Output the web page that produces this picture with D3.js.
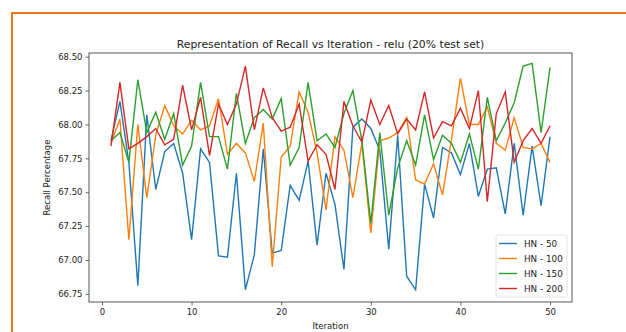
<!DOCTYPE html>
<meta charset="utf-8">
<script src="https://cdn.jsdelivr.net/npm/d3@7"></script>
<style>
  body { margin: 0; background: #fff; }
  text { font-family: "DejaVu Sans", sans-serif; fill: #222; }
</style>
<div id="my_dataviz"></div>
<script>

// data (iterations 1..50)
var iterations = d3.range(1, 51)
var seriesNames = ["HN - 50", "HN - 100", "HN - 150", "HN - 200"]
var seriesColors = ["#1f77b4", "#ff7f0e", "#2ca02c", "#d62728"]

var hn50 = [67.88, 68.17, 67.72, 66.81, 68.07, 67.52, 67.80, 67.86, 67.64, 67.15,
            67.82, 67.72, 67.03, 67.02, 67.64, 66.78, 67.04, 67.82, 67.05, 67.07,
            67.55, 67.44, 67.73, 67.11, 67.64, 67.41, 66.93, 67.98, 68.04, 67.97,
            67.81, 67.08, 67.92, 66.88, 66.78, 67.56, 67.31, 67.83, 67.79, 67.63,
            67.86, 67.47, 67.67, 67.68, 67.34, 67.86, 67.33, 67.84, 67.40, 67.91]
var hn100 = [67.86, 68.04, 67.15, 68.00, 67.46, 67.92, 68.14, 67.99, 67.93, 68.03,
             67.96, 67.99, 68.19, 67.78, 67.86, 67.79, 67.58, 68.01, 66.95, 67.76,
             67.84, 68.24, 68.09, 67.79, 67.37, 67.91, 67.81, 67.46, 67.86, 67.20,
             67.88, 67.90, 67.94, 68.05, 67.59, 67.56, 67.71, 67.48, 67.89, 68.34,
             68.00, 68.00, 68.13, 67.86, 67.81, 68.05, 67.83, 67.82, 67.86, 67.72]
var hn150 = [67.88, 67.94, 67.72, 68.33, 67.94, 68.09, 67.89, 68.08, 67.70, 67.84,
             68.31, 67.91, 67.91, 67.67, 68.23, 67.86, 68.05, 68.11, 68.04, 68.19,
             67.70, 67.83, 68.31, 67.88, 67.93, 67.83, 68.08, 68.25, 67.88, 67.27,
             67.94, 67.33, 67.68, 67.88, 67.70, 68.07, 67.74, 67.92, 67.86, 67.72,
             67.93, 67.67, 68.20, 67.88, 68.01, 68.16, 68.43, 68.45, 67.94, 68.42]
var hn200 = [67.84, 68.31, 67.82, 67.86, 67.91, 67.97, 67.85, 67.89, 68.29, 67.96,
             68.20, 67.77, 68.15, 68.00, 68.15, 68.43, 67.96, 68.27, 68.05, 67.95,
             67.98, 68.15, 67.73, 67.85, 67.78, 67.52, 68.17, 67.99, 67.87, 68.18,
             68.00, 68.14, 67.93, 68.04, 67.96, 68.24, 67.90, 68.02, 67.99, 68.12,
             67.97, 68.25, 67.43, 68.08, 68.24, 67.72, 67.88, 67.97, 67.86, 67.99]

var xTicks = [0, 10, 20, 30, 40, 50]
var yTicks = [66.75, 67.00, 67.25, 67.50, 67.75, 68.00, 68.25, 68.50]

var allSeries = [hn50, hn100, hn150, hn200]

// dimensions of the page and the plot area
var W = 626, H = 332
var margin = {top: 53, right: 54, bottom: 30, left: 89},
    width = W - margin.left - margin.right,
    height = H - margin.top - margin.bottom

var svg0 = d3.select("#my_dataviz")
  .append("svg")
    .attr("width", W)
    .attr("height", H)

// orange frame of the slide
svg0.append("rect")
  .attr("x", 12).attr("y", 13)
  .attr("width", W).attr("height", H)
  .attr("fill", "none")
  .attr("stroke", "#ec7422")
  .attr("stroke-width", 2)

var svg = svg0.append("g")
  .attr("transform", "translate(" + margin.left + "," + margin.top + ")")

// matplotlib-ish 5% margins
var x = d3.scaleLinear()
  .domain([1 - 2.45, 50 + 2.45])
  .range([0, width])

var y = d3.scaleLinear()
  .domain([66.69, 68.527])
  .range([height, 0])

// axes
var xAxis = svg.append("g")
  .attr("transform", "translate(0," + height + ")")
  .call(d3.axisBottom(x).tickValues(xTicks).tickSize(3.5).tickPadding(3))
var yAxis = svg.append("g")
  .call(d3.axisLeft(y).tickValues(yTicks).tickFormat(d3.format(".2f")).tickSize(3.5).tickPadding(3))

svg.selectAll(".domain").remove()
svg.selectAll(".tick line").attr("stroke", "#444").attr("stroke-width", 0.8)
svg.selectAll(".tick text").style("font-size", "8.5px").attr("fill", "#222")

// spines
svg.append("rect")
  .attr("x", 0).attr("y", 0)
  .attr("width", width).attr("height", height)
  .attr("fill", "none")
  .attr("stroke", "#444")
  .attr("stroke-width", 0.9)

// lines
var line = d3.line()
  .x(function(d, i) { return x(iterations[i]) })
  .y(function(d) { return y(d) })

svg.selectAll(".series")
  .data(allSeries)
  .enter()
  .append("path")
    .attr("class", "series")
    .attr("d", line)
    .attr("fill", "none")
    .attr("stroke", function(d, i) { return seriesColors[i] })
    .attr("stroke-width", 1.4)

// title and labels
svg0.append("text")
  .attr("x", margin.left + width / 2)
  .attr("y", 48)
  .attr("text-anchor", "middle")
  .style("font-size", "10.8px")
  .text("Representation of Recall vs Iteration - relu (20% test set)")

svg0.append("text")
  .attr("transform", "translate(50," + (margin.top + height / 2) + ") rotate(-90)")
  .attr("text-anchor", "middle")
  .style("font-size", "8.5px")
  .text("Recall Percentage")

svg0.append("text")
  .attr("x", margin.left + width / 2)
  .attr("y", 329)
  .attr("text-anchor", "middle")
  .style("font-size", "8.5px")
  .text("Iteration")

// legend
var legend = svg0.append("g")
  .attr("transform", "translate(496,235)")

legend.append("rect")
  .attr("width", 71).attr("height", 62)
  .attr("rx", 2)
  .attr("fill", "#fff")
  .attr("stroke", "#ddd")
  .attr("stroke-width", 0.8)

var items = legend.selectAll(".item")
  .data(seriesNames)
  .enter()
  .append("g")
    .attr("transform", function(d, i) { return "translate(0," + (8.5 + i * 15) + ")" })

items.append("line")
  .attr("x1", 3).attr("x2", 21)
  .attr("stroke", function(d, i) { return seriesColors[i] })
  .attr("stroke-width", 1.4)

items.append("text")
  .attr("x", 28)
  .attr("dy", "0.35em")
  .style("font-size", "8.8px")
  .text(function(d) { return d })

</script>
